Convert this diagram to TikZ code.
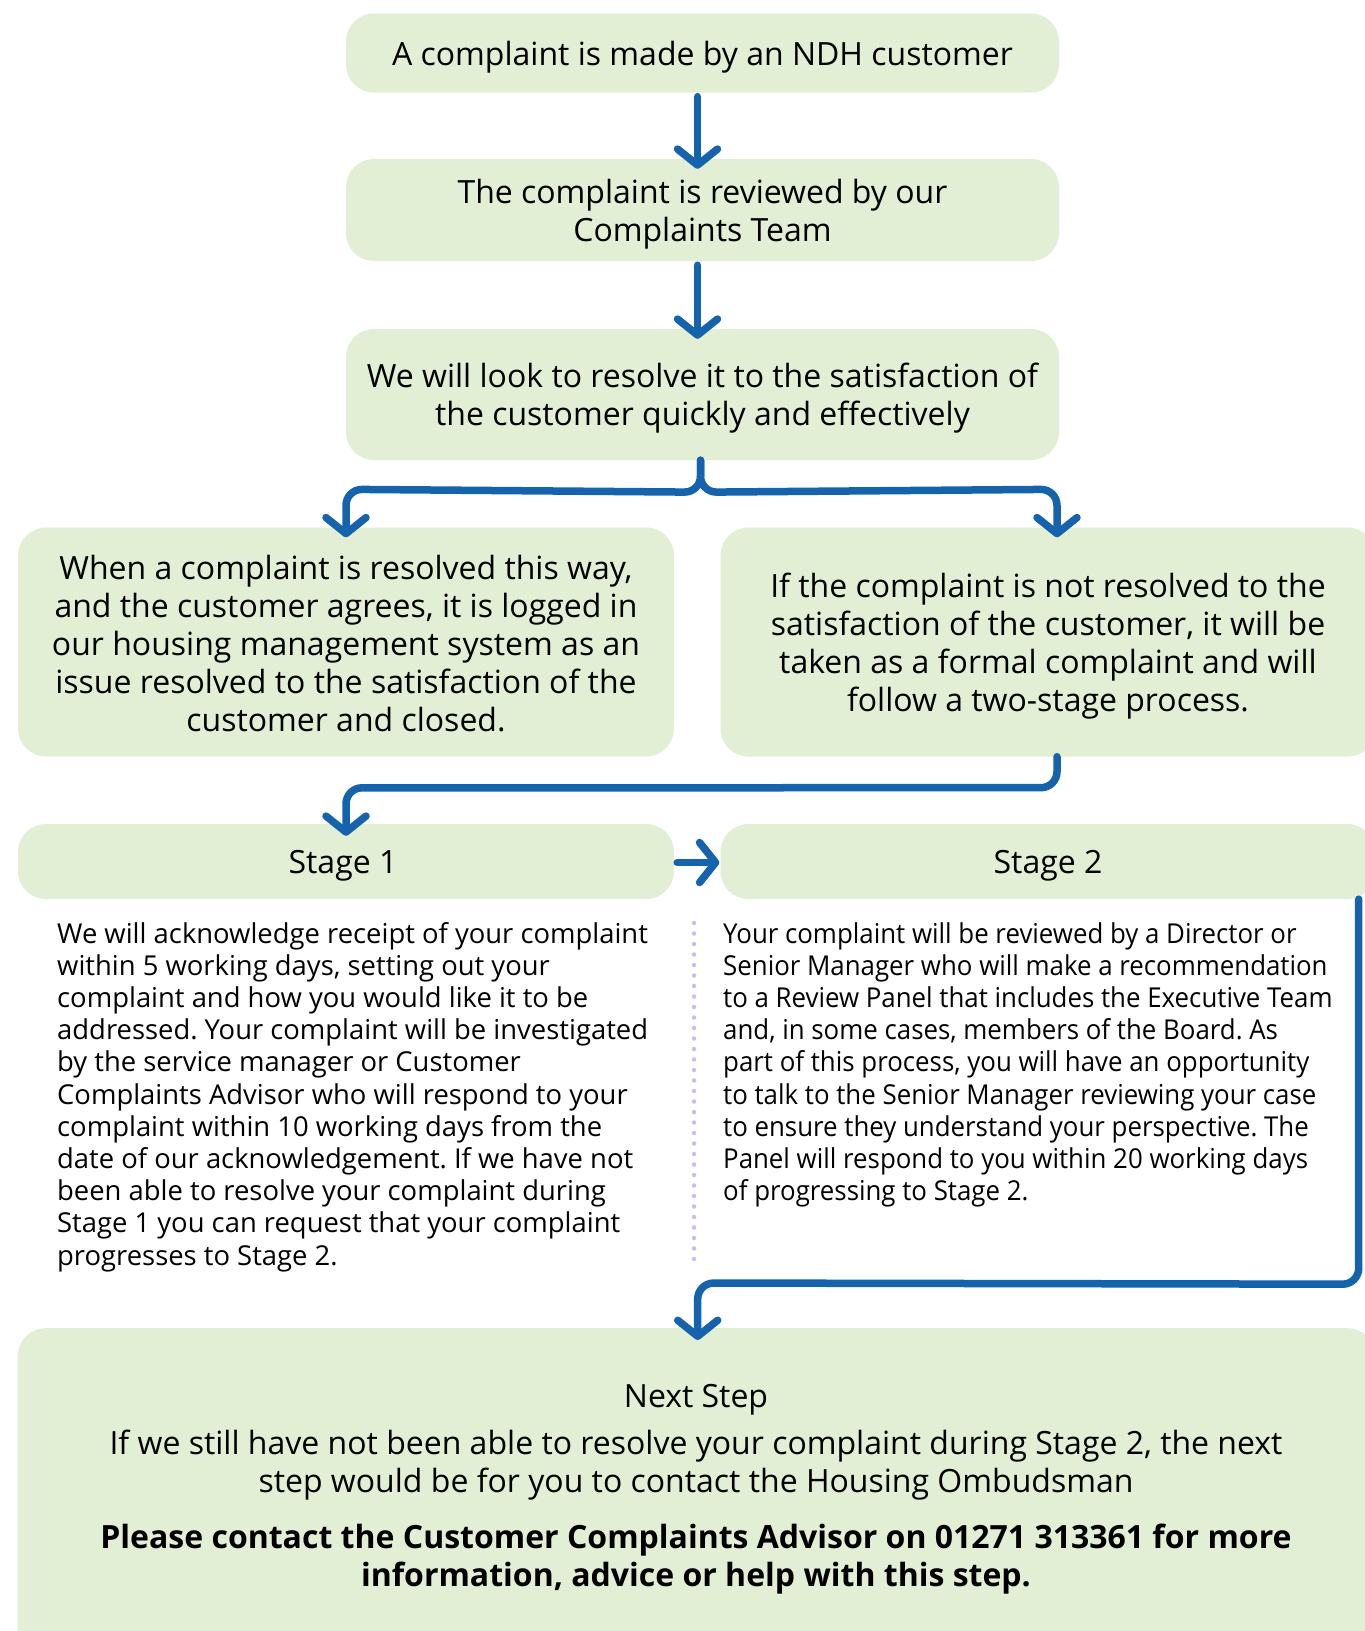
\documentclass[tikz,border=0pt]{standalone}
\usepackage{fontspec}
\setmainfont{Open Sans}
\newfontfamily\condfont{Open Sans}[FakeStretch=0.943]
\usetikzlibrary{arrows.meta,calc}
\definecolor{boxgreen}{RGB}{226,239,213}
\definecolor{flowblue}{RGB}{22,99,173}
\definecolor{dotlilac}{RGB}{205,190,226}
\frenchspacing
\begin{document}
\begin{tikzpicture}[x=1pt,y=-1pt,
  box/.style={fill=boxgreen, rounded corners=28pt, inner sep=0pt},
  bigtext/.style={font=\fontsize{32}{38}\selectfont, align=center, inner sep=0pt},
  smalltext/.style={font=\fontsize{27.4}{32.2}\selectfont, align=left, inner sep=0pt},
  condtext/.style={font=\condfont\fontsize{27.4}{32.2}\selectfont, align=left, inner sep=0pt},
  flow/.style={draw=flowblue, line width=7.5pt, line cap=round, line join=round,
    rounded corners=16pt,
    -{Straight Barb[length=16pt,width=40pt,line cap=round,line join=round]}},
]
\useasboundingbox (0,0) rectangle (1365,1631);
\clip (0,0) rectangle (1365,1631);
\fill[white] (0,0) rectangle (1365,1631);

% boxes
\node[box, minimum width=713pt, minimum height=79pt] (b1) at (702.5,53) {};
\node[box, minimum width=713pt, minimum height=102pt] (b2) at (702.5,210) {};
\node[box, minimum width=713pt, minimum height=131pt] (b3) at (702.5,394.5) {};
\node[box, minimum width=656pt, minimum height=229pt] (lb) at (346,642) {};
\node[box, minimum width=655pt, minimum height=229pt] (rb) at (1048,642) {};
\node[box, minimum width=656pt, minimum height=75pt] (s1) at (346,861.5) {};
\node[box, minimum width=655pt, minimum height=75pt] (s2) at (1048,861.5) {};
\node[box, minimum width=1358pt, minimum height=330pt, anchor=north west] (ns) at (17.5,1328) {};

% box texts
\node[bigtext] (b1t) at ($(b1)+(0,4)$) {A complaint is made by an NDH customer};
\node[bigtext] (b2t) at ($(b2)+(0,4)$) {The complaint is reviewed by our\\Complaints Team};
\node[bigtext] (b3t) at ($(b3)+(0,4)$) {We will look to resolve it to the satisfaction of\\the customer quickly and effectively};
\node[bigtext] (lbt) at ($(lb)+(0,2)$) {When a complaint is resolved this way,\\and the customer agrees, it is logged in\\our housing management system as an\\issue resolved to the satisfaction of the\\customer and closed.};
\node[bigtext] (rbt) at ($(rb)+(0,4)$) {If the complaint is not resolved to the\\satisfaction of the customer, it will be\\taken as a formal complaint and will\\follow a two-stage process.};
\node[bigtext] (s1t) at ($(s1)+(-3,4)$) {Stage 1};
\node[bigtext] (s2t) at ($(s2)+(0,4)$) {Stage 2};

% body texts
\node[smalltext, anchor=north west] (t1) at (57,922)
  {We will acknowledge receipt of your complaint\\
   within 5 working days, setting out your\\
   complaint and how you would like it to be\\
   addressed. Your complaint will be investigated\\
   by the service manager or Customer\\
   Complaints Advisor who will respond to your\\
   complaint within 10 working days from the\\
   date of our acknowledgement. If we have not\\
   been able to resolve your complaint during\\
   Stage 1 you can request that your complaint\\
   progresses to Stage 2.};
\node[condtext, anchor=north west] (t2) at (723,922)
  {Your complaint will be reviewed by a Director or\\
   Senior Manager who will make a recommendation\\
   to a Review Panel that includes the Executive Team\\
   and, in some cases, members of the Board. As\\
   part of this process, you will have an opportunity\\
   to talk to the Senior Manager reviewing your case\\
   to ensure they understand your perspective. The\\
   Panel will respond to you within 20 working days\\
   of progressing to Stage 2.};

\node[bigtext] (nt) at (696,1400) {Next Step};
\node[bigtext] (nb) at (696,1465)
  {If we still have not been able to resolve your complaint during Stage 2, the next\\step would be for you to contact the Housing Ombudsman};
\node[bigtext, font=\fontsize{32}{38}\selectfont\bfseries] (nc) at (696,1559)
  {Please contact the Customer Complaints Advisor on 01271 313361 for more\\information, advice or help with this step.};

% dotted divider
\coordinate (dtop) at (694,923);
\coordinate (dbot) at (694,1261);
\draw[dotlilac, line width=4.5pt, line cap=round, dash pattern=on 0pt off 10.5pt] (dtop) -- (dbot);

% connectors
\draw[flow] ($(b1.south)+(-5,4)$) -- ($(b2.north)+(-5,10)$);
\draw[flow] ($(b2.south)+(-5,4)$) -- ($(b3.north)+(-5,10)$);
\draw[flow] ($(b3.south)+(-2,0)$) -- ($(b3.south)+(-2,32)$) -- ($(lb.north)+(0,32-70)$) -- ($(lb.north)+(0,10)$);
\draw[flow] ($(b3.south)+(-2,0)$) -- ($(b3.south)+(-2,32)$) -- ($(rb.north)+(9,32-70)$) -- ($(rb.north)+(9,10)$);
\draw[flow] ($(rb.south)+(9,0)$) -- ($(rb.south)+(9,31)$) -- ($(s1.north)+(0,-36)$) -- ($(s1.north)+(0,12)$);
\draw[flow] ($(s1.east)+(3,1)$) -- ($(s2.west)+(-1,1)$);
\draw[flow] ($(s2.south east)+(-17,0)$) -- ($(s2.south east)+(-17,385)$) -- ($(ns.north)+(1,-45)$) -- ($(ns.north)+(1,12)$);
\end{tikzpicture}
\end{document}
